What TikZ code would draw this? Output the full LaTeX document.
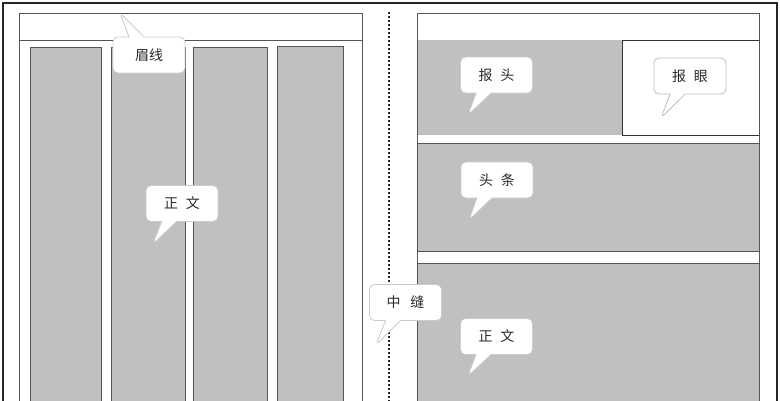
\documentclass[tikz,border=0pt]{standalone}
\usepackage{fontspec}
\newfontfamily\cjk{Noto Sans CJK SC}
\usepackage{tikz}
\usetikzlibrary{shapes.callouts}
\definecolor{blockgray}{HTML}{C0C0C0}
\definecolor{linegray}{HTML}{555555}
\definecolor{bubbleline}{HTML}{CCCCCC}
\definecolor{textgray}{HTML}{2A2A2A}

\begin{document}
\begin{tikzpicture}[x=1pt, y=-1pt,
	block/.style={fill=blockgray, draw=linegray, line width=0.8pt},
	bubble/.style={rectangle callout, fill=white, draw=bubbleline, line width=0.8pt, rounded corners=5pt, minimum width=72pt, minimum height=36pt, inner sep=0pt, callout pointer width=15pt, text=textgray, font=\cjk\fontsize{14}{16}\selectfont}]
	\useasboundingbox (0,0) rectangle (780,400);
	\clip (0,0) rectangle (780,400);
	\fill[white] (0,0) rectangle (780,400);
	
	% outer frame
	\draw[line width=1.6pt, draw=black!85] (3,3) rectangle (777,420);
	
	% left page
	\draw[linegray, line width=0.8pt] (19,13) rectangle (362,420);
	\draw[linegray, line width=0.8pt] (19,40) -- (362,40);
	\draw[block] (30,47) rectangle (101,420);
	\draw[block] (111,47) rectangle (185,420);
	\draw[block] (193,47) rectangle (267,420);
	\draw[block] (277,46) rectangle (343,420);
	
	% right page
	\fill[blockgray] (417,40) rectangle (622,135);
	\draw[block] (417,143) rectangle (759,251);
	\draw[block] (417,263) rectangle (759,420);
	\draw[fill=white, draw=black!80, line width=1pt] (622,40) rectangle (759,135);
	\draw[linegray, line width=0.8pt] (417,13) rectangle (759,420);
	
	% gutter
	\draw[black!85, line width=2.4pt, dash pattern=on 2.2pt off 1.8pt] (389,12) -- (389,420);
	
	% callout tips
	\coordinate (meitip) at (120,13);
	\coordinate (baotoutip) at (468,115);
	\coordinate (baoyantip) at (661,118);
	\coordinate (toutiaotip) at (469,220);
	\coordinate (zhengwenLtip) at (153,244);
	\coordinate (zhongfengtip) at (376,345);
	\coordinate (zhengwenRtip) at (468,376);
	
	\node[bubble, callout absolute pointer={(meitip)}] (meixian) at (149,55) {眉线};
	\node[bubble, callout absolute pointer={(baotoutip)}] (baotou) at (496.5,75) {报\hspace{8pt}头};
	\node[bubble, callout absolute pointer={(baoyantip)}, draw=black!25] (baoyan) at (690,76) {报\hspace{8pt}眼};
	\node[bubble, callout absolute pointer={(toutiaotip)}] (toutiao) at (497,180) {头\hspace{8pt}条};
	\node[bubble, callout absolute pointer={(zhengwenLtip)}] (zhengwenL) at (182,203.5) {正\hspace{8pt}文};
	\node[bubble, callout absolute pointer={(zhongfengtip)}] (zhongfeng) at (405.5,302.5) {中\hspace{10pt}缝};
	\node[bubble, callout absolute pointer={(zhengwenRtip)}] (zhengwenR) at (496.5,336.5) {正\hspace{8pt}文};
\end{tikzpicture}
\end{document}
